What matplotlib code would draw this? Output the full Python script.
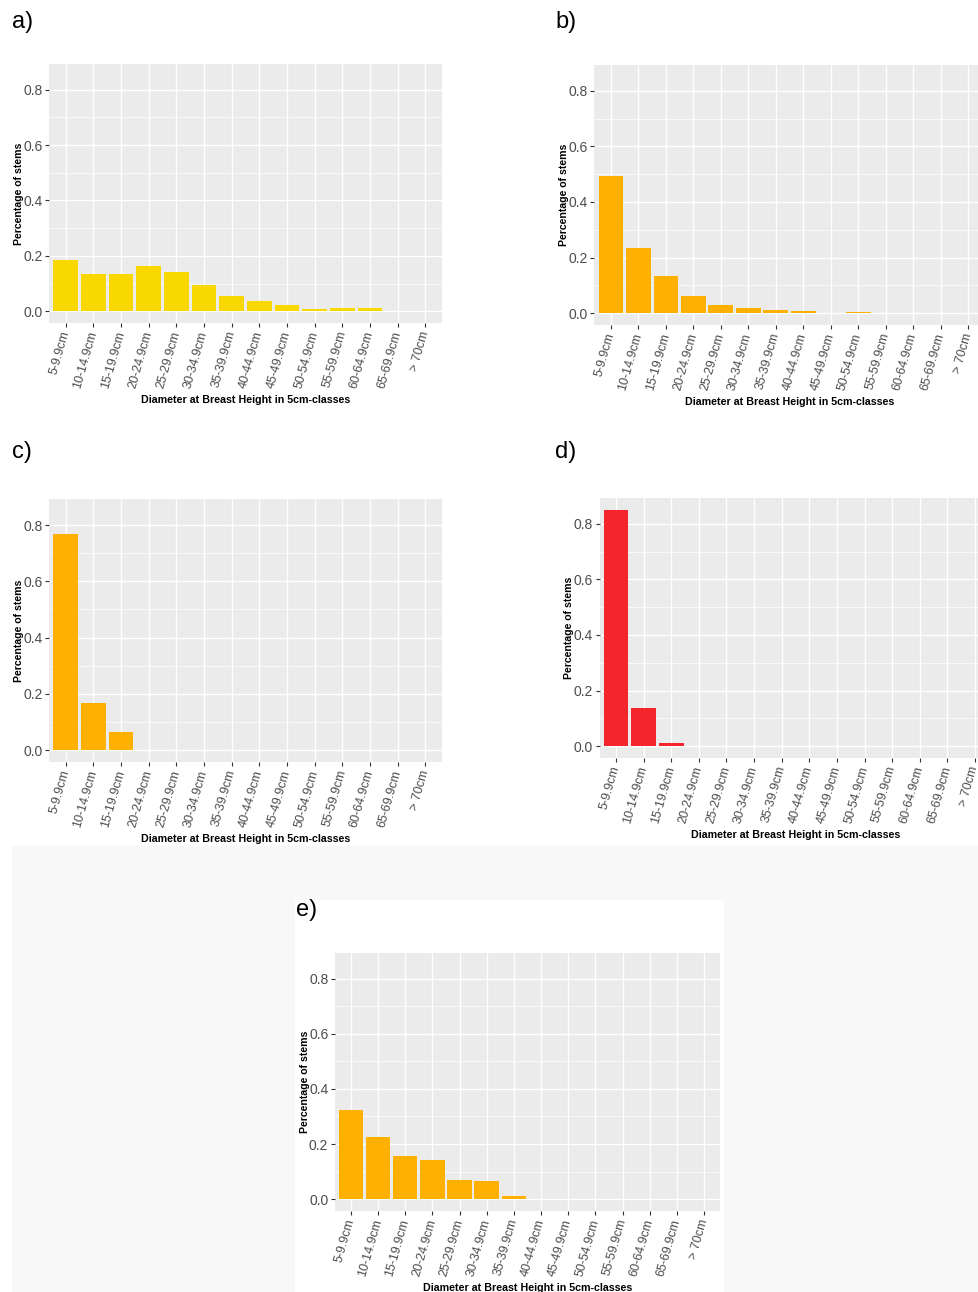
import matplotlib
matplotlib.use('Agg')
import matplotlib.pyplot as plt
from matplotlib.patches import Rectangle

plt.rcParams['font.family'] = ['Liberation Sans', 'DejaVu Sans']

# DBH classes
classes = ['5-9.9cm', '10-14.9cm', '15-19.9cm', '20-24.9cm', '25-29.9cm',
           '30-34.9cm', '35-39.9cm', '40-44.9cm', '45-49.9cm', '50-54.9cm',
           '55-59.9cm', '60-64.9cm', '65-69.9cm', '> 70cm']

# share of stems per class, one list per panel
share_a = [0.185, 0.134, 0.134, 0.163, 0.140, 0.094, 0.054, 0.036, 0.021,
           0.008, 0.010, 0.010, 0.0, 0.0]
share_b = [0.494, 0.234, 0.134, 0.061, 0.029, 0.018, 0.013, 0.008, 0.0,
           0.006, 0.0, 0.0, 0.0, 0.0]
share_c = [0.769, 0.167, 0.065, 0.0, 0.0, 0.0, 0.0, 0.0, 0.0,
           0.0, 0.0, 0.0, 0.0, 0.0]
share_d = [0.851, 0.139, 0.010, 0.0, 0.0, 0.0, 0.0, 0.0, 0.0,
           0.0, 0.0, 0.0, 0.0, 0.0]
share_e = [0.325, 0.227, 0.156, 0.141, 0.070, 0.065, 0.012, 0.0, 0.0,
           0.0, 0.0, 0.0, 0.0, 0.0]

panel_labels = ['a)', 'b)', 'c)', 'd)', 'e)']
yticks = [0.0, 0.2, 0.4, 0.6, 0.8]

W, H = 979, 1292
fig = plt.figure(figsize=(W / 100, H / 100), dpi=100)
fig.patch.set_facecolor('white')

# light grey backdrop for the lower row, white card for e)
fig.patches.append(Rectangle((12 / W, 0), 1 - 12 / W, 1 - 846 / H,
                             transform=fig.transFigure, color='#f8f8f8', zorder=-10))
fig.patches.append(Rectangle((295 / W, 0), 428 / W, 1 - 900 / H,
                             transform=fig.transFigure, color='white', zorder=-9))


def ggbar(left, top, width, height, values, color, label, lab_xy):
    ax = fig.add_axes([left / W, 1 - (top + height) / H, width / W, height / H])
    ax.set_facecolor('#EBEBEB')
    x = list(range(len(classes)))
    ax.bar(x, values, width=0.9, color=color, zorder=3)
    ax.set_xlim(-0.6, len(classes) - 0.4)
    ax.set_ylim(-0.0425, 0.8925)
    ax.set_yticks(yticks)
    ax.set_yticklabels([f'{v:.1f}' for v in yticks])
    ax.set_yticks([0.1, 0.3, 0.5, 0.7], minor=True)
    ax.set_xticks(x)
    ax.set_xticklabels(classes, rotation=74, ha='right', va='center',
                       rotation_mode='anchor')
    ax.grid(which='major', color='white', linewidth=1.0, zorder=1)
    ax.grid(which='minor', axis='y', color='white', linewidth=0.5, zorder=1)
    ax.tick_params(which='major', length=3, width=0.8, color='#333333',
                   labelcolor='#4D4D4D', labelsize=10, pad=1.5)
    ax.tick_params(axis='x', labelsize=9, pad=3)
    ax.tick_params(which='minor', length=0)
    for s in ax.spines.values():
        s.set_visible(False)
    ax.set_axisbelow(True)
    ax.text(0.5, -77 / height, 'Diameter at Breast Height in 5cm-classes',
            transform=ax.transAxes, ha='center', va='center',
            fontsize=7.7, fontweight='bold', color='black')
    ax.text(-30 / width, 0.5, 'Percentage of stems', transform=ax.transAxes,
            ha='center', va='center', rotation=90,
            fontsize=7.6, fontweight='bold', color='black')
    fig.text(lab_xy[0] / W, 1 - lab_xy[1] / H, label, fontsize=17,
             ha='left', va='center')
    return ax


ggbar(49, 64, 393, 259, share_a, '#F8D800', panel_labels[0], (12, 22))
ggbar(594.5, 65, 390, 260, share_b, '#FFB000', panel_labels[1], (555, 22))
ggbar(49, 499, 393, 263, share_c, '#FFB000', panel_labels[2], (12, 452))
ggbar(599.5, 498, 392, 260, share_d, '#F5262B', panel_labels[3], (555, 452))
ggbar(334.5, 953, 386, 258, share_e, '#FFB000', panel_labels[4], (296, 910))

fig.savefig('out.png', dpi=100)
